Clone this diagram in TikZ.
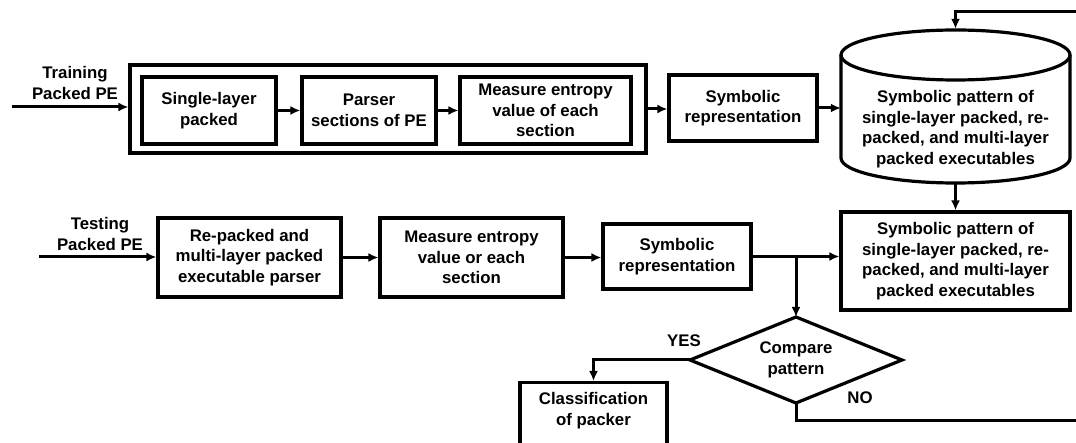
\documentclass[tikz,border=0pt]{standalone}
\usepackage{fontspec}
\setmainfont{Liberation Sans}
\usetikzlibrary{arrows.meta}
\begin{document}
\begin{tikzpicture}[x=1pt,y=-1pt,
  font=\fontsize{16.8}{20.5}\selectfont\bfseries,
  box/.style={draw, line width=3.2pt, align=center, inner sep=0pt},
  flow/.style={line width=3pt, -{Latex[length=10pt,width=9pt]}},
  lbl/.style={align=center, inner sep=0pt}]
\useasboundingbox (0,0) rectangle (1076,443);
\clip (0,0) rectangle (1076,443);

% ---------- training stage ----------
\node[box, minimum width=516pt, minimum height=88pt] (outer) at (388,109) {};
\node[box, minimum width=134pt, minimum height=67pt] (sl) at (209,110.5) {Single-layer\\packed};
\node[box, minimum width=134pt, minimum height=67pt] (parser) at (369,110.5) {Parser\\sections of PE};
\node[box, minimum width=171pt, minimum height=67pt] (meas1) at (545.5,110.5) {Measure entropy\\value of each\\section};
\node[box, minimum width=148pt, minimum height=66pt] (sym1) at (743,108) {Symbolic\\representation};

\node[lbl] (trlbl) at (75,83) {Training\\Packed PE};
\coordinate (trin) at (12,107);

% pattern database (cylinder)
\node[inner sep=0pt, minimum width=229pt, minimum height=154pt] (db) at (955.5,106) {};
\draw[line width=3.2pt] (841,55) -- (841,158)
  arc[start angle=180, end angle=360, x radius=114.5pt, y radius=25pt] -- (1070,55);
\draw[line width=3.2pt] (955.5,55) ellipse[x radius=114.5pt, y radius=25pt];
\node[lbl] (dbtext) at (955.5,129) {Symbolic pattern of\\single-layer packed, re-\\packed, and multi-layer\\packed executables};

% ---------- testing stage ----------
\node[box, minimum width=183pt, minimum height=79pt] (rp) at (249.5,257.5) {Re-packed and\\multi-layer packed\\executable parser};
\node[box, minimum width=183pt, minimum height=79pt] (meas2) at (471.5,257.5) {Measure entropy\\value or each\\section};
\node[box, minimum width=148pt, minimum height=65pt] (sym2) at (677,256.5) {Symbolic\\representation};
\node[box, minimum width=229pt, minimum height=98pt] (box2) at (955.5,261) {Symbolic pattern of\\single-layer packed, re-\\packed, and multi-layer\\packed executables};

\node[lbl] (telbl) at (100,234) {Testing\\Packed PE};
\coordinate (tein) at (39,257);

% decision
\coordinate (cmpN) at (796,317);
\coordinate (cmpS) at (796,403);
\coordinate (cmpW) at (690,360);
\coordinate (cmpE) at (902,360);
\draw[line width=3.2pt, line join=miter] (cmpN) -- (cmpE) -- (cmpS) -- (cmpW) -- cycle;
\node[lbl] (cmp) at (796,360) {Compare\\pattern};

\node[box, anchor=north, minimum width=147pt, inner ysep=10pt, text depth=70pt] (class) at (593.5,381) {Classification\\of packer};

\node[lbl] (yes) at (684,341) {YES};
\node[lbl] (no) at (860,398) {NO};

% ---------- connectors ----------
\draw[flow] (trin) -- (trin -| outer.west);
\draw[flow] (sl) -- (parser);
\draw[flow] (parser) -- (meas1);
\draw[flow] (outer.east) -- (outer.east -| sym1.west);
\draw[flow] (sym1.east) -- (sym1.east -| db.west);
\draw[flow] (db.south) -- (box2.north);

\draw[flow] (tein) -- (tein -| rp.west);
\draw[flow] (rp) -- (meas2);
\draw[flow] (meas2.east) -- (meas2.east -| sym2.west);
\draw[flow] (sym2.east) -- (sym2.east -| box2.west);
\coordinate (br) at (sym2.east -| cmpN);
\draw[flow] (br) -- (cmpN);

\draw[flow] (cmpW) -| (class.north);

% feedback loop from NO back into the pattern database
\coordinate (noend) at (1095,420);
\coordinate (fbtop) at (1095,12);
\draw[flow] (cmpS) |- (noend) -- (fbtop) -| (db.north);
\end{tikzpicture}
\end{document}
